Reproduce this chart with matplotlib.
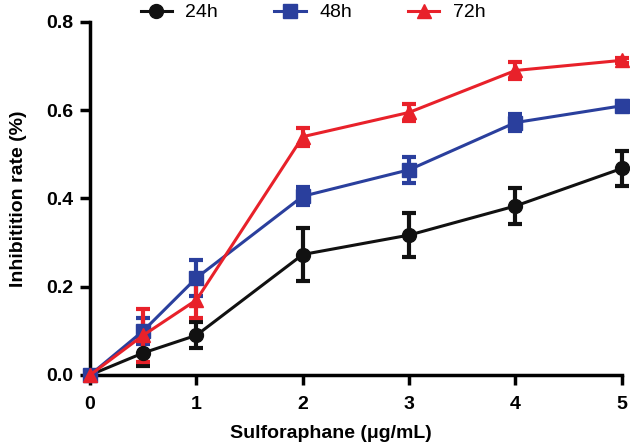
import matplotlib
matplotlib.use('Agg')
import matplotlib.pyplot as plt

plt.rcParams['font.family'] = ['Liberation Sans', 'DejaVu Sans']

# Data
conc = [0, 0.5, 1, 2, 3, 4, 5]
rate_24h = [0.0, 0.05, 0.09, 0.273, 0.317, 0.383, 0.468]
err_24h = [0.0, 0.03, 0.03, 0.06, 0.05, 0.04, 0.04]
rate_48h = [0.0, 0.10, 0.22, 0.405, 0.465, 0.572, 0.61]
err_48h = [0.0, 0.03, 0.04, 0.02, 0.03, 0.02, 0.01]
rate_72h = [0.0, 0.09, 0.17, 0.54, 0.595, 0.69, 0.713]
err_72h = [0.0, 0.06, 0.04, 0.02, 0.02, 0.02, 0.005]

fig = plt.figure(figsize=(6.3, 4.48), dpi=100)
ax = fig.add_axes([0.143, 0.163, 0.844, 0.788])

series = [
    ('24h', rate_24h, err_24h, '#111111', 'o', 10),
    ('48h', rate_48h, err_48h, '#2a3f9d', 's', 10),
    ('72h', rate_72h, err_72h, '#e8212a', '^', 10),
]
handles = []
for label, y, e, c, m, ms in series:
    cont = ax.errorbar(conc, y, yerr=e, color=c, marker=m, markersize=ms, lw=2.2,
                       elinewidth=3, capsize=5, capthick=3, label=label,
                       clip_on=False, zorder=3)
    handles.append(cont[0])

ax.set_xlim(0, 5)
ax.set_ylim(0, 0.8)
ax.set_xticks([0, 1, 2, 3, 4, 5])
ax.set_yticks([0.0, 0.2, 0.4, 0.6, 0.8])
ax.set_yticklabels(['0.0', '0.2', '0.4', '0.6', '0.8'])
ax.spines['top'].set_visible(False)
ax.spines['right'].set_visible(False)
ax.spines['left'].set_linewidth(2.5)
ax.spines['bottom'].set_linewidth(2.5)
ax.tick_params(width=2.5, length=7, labelsize=14)
ax.tick_params(axis='x', pad=8)
ax.tick_params(axis='y', pad=5)
for t in ax.get_xticklabels() + ax.get_yticklabels():
    t.set_fontweight('bold')

ax.set_xlabel('Sulforaphane (μg/mL)', fontsize=14, fontweight='bold')
ax.xaxis.set_label_coords(0.453, -0.142)
ax.set_ylabel('Inhibitition rate (%)', fontsize=14, fontweight='bold', labelpad=14)

fig.legend(handles, ['24h', '48h', '72h'], loc='center',
           bbox_to_anchor=(0.497, 0.972), ncol=3, frameon=False,
           fontsize=14, handlelength=1.6, handletextpad=0.7, columnspacing=2.9)

fig.savefig('out.png', dpi=100)
